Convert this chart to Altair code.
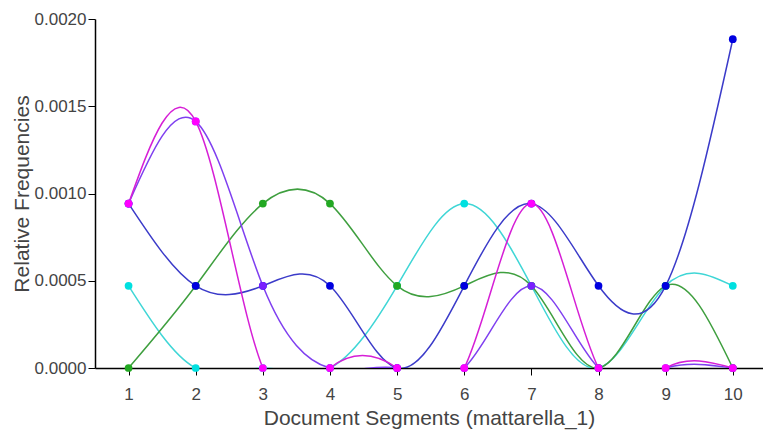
import altair as alt
import pandas as pd

segments = [1, 2, 3, 4, 5, 6, 7, 8, 9, 10]
series_names = ["s_cyan", "s_green", "s_blue", "s_purple", "s_magenta"]
cyan_vals = [0.000471, 0.0, 0.0, 0.0, 0.000471, 0.000942, 0.000471, 0.0, 0.000471, 0.000471]
green_vals = [0.0, 0.000471, 0.000942, 0.000942, 0.000471, 0.000471, 0.000471, 0.0, 0.000471, 0.0]
blue_vals = [0.000942, 0.000471, 0.000471, 0.000471, 0.0, 0.000471, 0.000942, 0.000471, 0.000471, 0.001884]
purple_vals = [0.000942, 0.001413, 0.000471, 0.0, 0.0, 0.0, 0.000471, 0.0, 0.0, 0.0]
magenta_vals = [0.000942, 0.001413, 0.0, 0.0, 0.0, 0.0, 0.000942, 0.0, 0.0, 0.0]
line_colors = ["#3fd6d6", "#3f9f3f", "#3b3bc9", "#7f3ff0", "#d61fd6"]
point_colors = ["#00e0e0", "#22a822", "#0000e0", "#7a1fff", "#ff00ff"]

all_vals = [cyan_vals, green_vals, blue_vals, purple_vals, magenta_vals]
rows = []
for name, vals in zip(series_names, all_vals):
    for s, v in zip(segments, vals):
        rows.append({"series": name, "segment": s, "value": v})
df = pd.DataFrame(rows)

FONT = "Liberation Sans"

x = alt.X("segment:Q",
          scale=alt.Scale(domain=[0.5, 10.45], nice=False, zero=False),
          axis=alt.Axis(values=segments, title="Document Segments (mattarella_1)",
                        format="d", grid=False))
y = alt.Y("value:Q",
          scale=alt.Scale(domain=[0, 0.002], nice=False),
          axis=alt.Axis(values=[0, 0.0005, 0.001, 0.0015, 0.002], format=".4f",
                        title="Relative Frequencies", grid=False))

lines = alt.Chart(df).mark_line(interpolate="natural", strokeWidth=1.5, clip=True).encode(
    x=x, y=y,
    color=alt.Color("series:N", scale=alt.Scale(domain=series_names, range=line_colors), legend=None),
)
points = alt.Chart(df).mark_circle(size=60, opacity=1).encode(
    x=x, y=y,
    color=alt.Color("series:N", scale=alt.Scale(domain=series_names, range=point_colors), legend=None),
)

chart = alt.layer(lines, points).resolve_scale(color="independent").properties(
    width=668, height=349,
    autosize=alt.AutoSizeParams(type="none"),
    padding={"left": 95, "top": 19, "right": 0, "bottom": 68},
    background="white",
).configure_view(stroke=None).configure_axis(
    labelFont=FONT, titleFont=FONT, labelColor="#444", titleColor="#444",
    labelFontSize=17, titleFontSize=21, titleFontWeight="normal",
    domainColor="black", tickColor="black", domainWidth=1.5, tickWidth=1, tickSize=7,
).configure_axisY(titlePadding=2, labelPadding=2).configure_axisX(titlePadding=5, labelPadding=11)

chart.save("out.html", embed_options={"renderer": "svg", "actions": False})
